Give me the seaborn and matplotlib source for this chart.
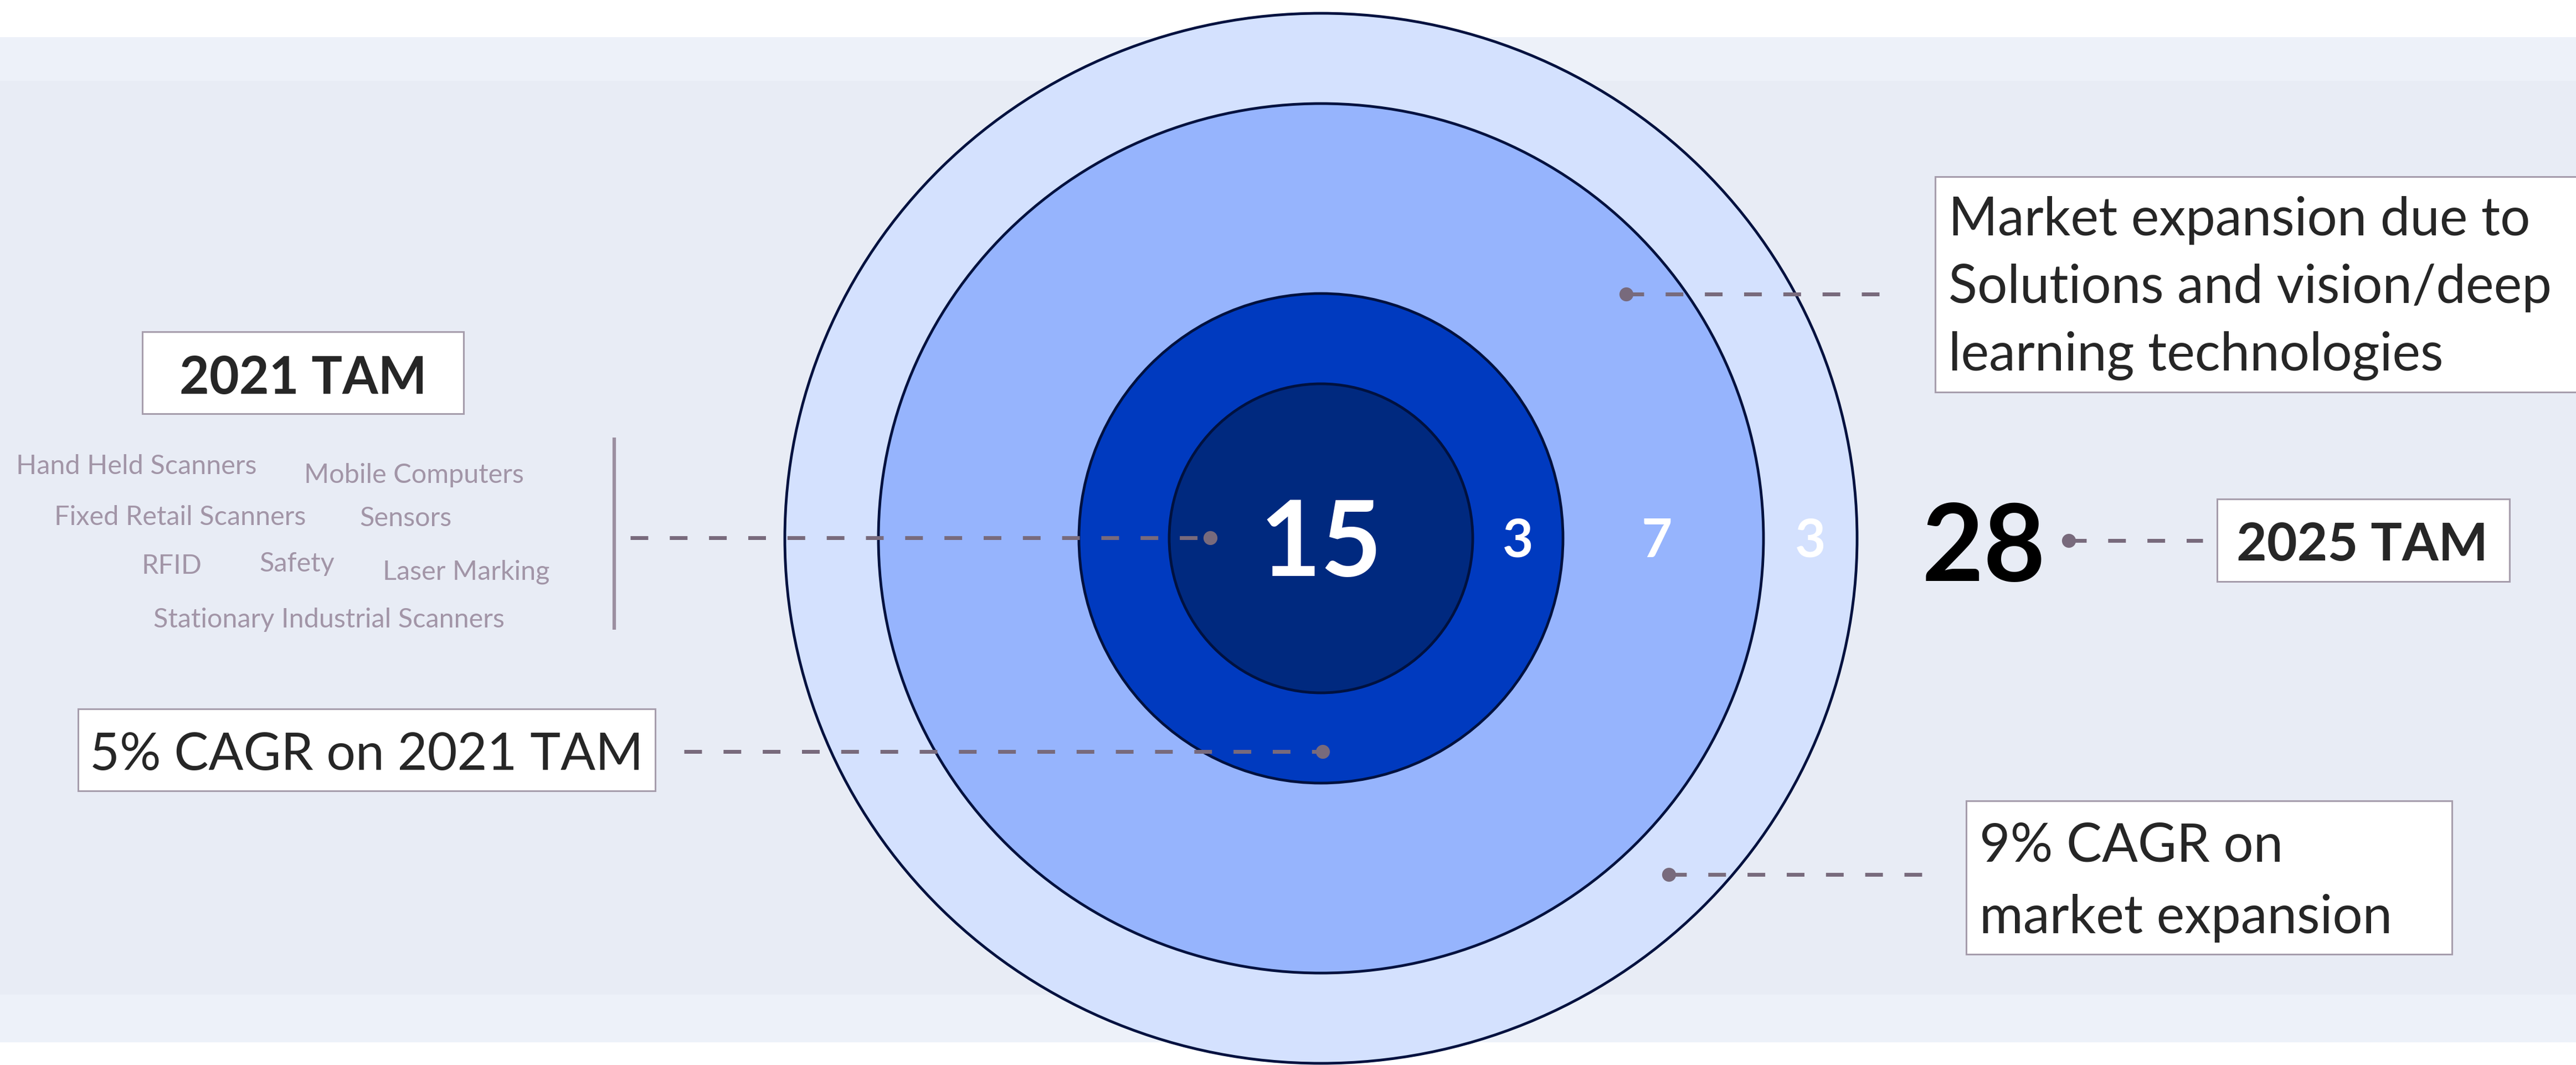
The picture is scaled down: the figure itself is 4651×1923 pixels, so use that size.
import matplotlib
matplotlib.use("Agg")
import matplotlib.pyplot as plt
from matplotlib.patches import Ellipse, Rectangle
import seaborn as sns
import pandas as pd

# ---------------- data ----------------
segment_values = [15, 3, 7, 3]          # 2021 TAM, 5% CAGR growth, expansion, 9% CAGR growth
total_value = 28
tam_2021_label = "2021 TAM"
tam_2025_label = "2025 TAM"
tam_categories = ["Hand Held Scanners", "Mobile Computers", "Fixed Retail Scanners",
                  "Sensors", "RFID", "Safety", "Laser Marking",
                  "Stationary Industrial Scanners"]
note_expansion = ["Market expansion due to", "Solutions and vision/deep",
                  "learning technologies"]
note_cagr_2021 = "5% CAGR on 2021 TAM"
note_cagr_expansion = ["9% CAGR on", "market expansion"]

# ---------------- style / layout ----------------
W, H = 4651, 1924
DPI = 100
FONT = ["Lato", "DejaVu Sans"]
BG_MAIN = "#E8ECF5"
BG_BAND = "#EDF1F9"
RING_COLORS = ["#00297F", "#003ABF", "#96B4FD", "#D4E1FE"]   # inner -> outer
EDGE = "#00113F"
DASH_C = "#786A7C"
GREY_TXT = "#A295A7"
BOX_EDGE = "#A69DAC"

cx, cy = 2385, 973
ring_rx = [274, 437, 799, 968]
ring_ry = [279, 442, 785, 948]

sns.set_theme(style="white")
plt.rcParams["font.family"] = FONT

fig = plt.figure(figsize=(W / DPI, H / DPI), dpi=DPI)
ax = fig.add_axes([0, 0, 1, 1])

# background bands
ax.axhspan(68, 147, color=BG_BAND, zorder=0, lw=0)
ax.axhspan(147, 1797, color=BG_MAIN, zorder=0, lw=0)
ax.axhspan(1797, 1883, color=BG_BAND, zorder=0, lw=0)

# concentric circles (outer first)
for i in range(3, -1, -1):
    ax.add_patch(Ellipse((cx, cy), 2 * ring_rx[i], 2 * ring_ry[i],
                         facecolor=RING_COLORS[i], edgecolor=EDGE, lw=3.5, zorder=2 + (3 - i)))

# ring labels
ax.text(cx, 1040, str(segment_values[0]), color="white", fontsize=137,
        fontweight="bold", ha="center", va="baseline", zorder=10)
label_dx = [0, -12, 0]
for i in range(1, 4):
    xm = cx + (ring_rx[i - 1] + ring_rx[i]) / 2 + label_dx[i - 1]
    ax.text(xm, 1006, str(segment_values[i]), color="white", fontsize=69,
            fontweight="bold", ha="center", va="baseline", zorder=10)

ax.text(3582, 1049, str(total_value), color="black", fontsize=139,
        fontweight="bold", ha="center", va="baseline", zorder=10)

# connectors
connectors = pd.DataFrame({
    "x0": [1138, 1235, 2936, 3013, 3735],
    "x1": [2185, 2388, 3430, 3500, 3977],
    "y":  [972, 1358, 532, 1580, 977],
    "dot": [2185, 2388, 2936, 3013, 3735],
})
for _, r in connectors.iterrows():
    sns.lineplot(x=[r.x0, r.x1], y=[r.y, r.y], ax=ax, color=DASH_C, lw=5,
                 linestyle=(0, (4.6, 5.6)), zorder=11, legend=False)
sns.scatterplot(x=connectors["dot"], y=connectors["y"], ax=ax, color=DASH_C,
                s=330, linewidth=0, zorder=12, legend=False)

# bracket line
ax.plot([1109, 1109], [791, 1138], color="#9B8FA0", lw=4.5, solid_capstyle="butt", zorder=5)

# boxes
def box(x0, y0, x1, y1):
    ax.add_patch(Rectangle((x0, y0), x1 - x0, y1 - y0, facecolor="white",
                           edgecolor=BOX_EDGE, lw=2.2, zorder=8))

box(257, 600, 837, 748)
ax.text(547, 711, tam_2021_label, fontsize=67, fontweight="bold", ha="center",
        va="baseline", zorder=9)
box(4003, 902, 4531, 1051)
ax.text(4265, 1012, tam_2025_label, fontsize=68, fontweight="bold", ha="center",
        va="baseline", zorder=9)
box(141, 1281, 1183, 1429)
ax.text(662, 1390, note_cagr_2021, fontsize=67, ha="center", va="baseline", zorder=9)
box(3494, 320, 4700, 709)
for t, yb in zip(note_expansion, [425, 547, 669]):
    ax.text(3518, yb, t, fontsize=69, ha="left", va="baseline", zorder=9)
box(3550, 1447, 4427, 1724)
for t, yb in zip(note_cagr_expansion, [1556, 1685]):
    ax.text(3574, yb, t, fontsize=69, ha="left", va="baseline", zorder=9)

# category labels
cat_pos = [(29, 856), (549, 872), (98, 948), (649, 950), (255, 1036),
           (468, 1032), (691, 1047), (277, 1133)]
for t, (x, yb) in zip(tam_categories, cat_pos):
    ax.text(x, yb, t, fontsize=35, color=GREY_TXT, ha="left", va="baseline", zorder=9)

ax.set_xlim(0, W)
ax.set_ylim(H, 0)
ax.axis("off")
fig.patch.set_facecolor("white")
fig.savefig("out.png", dpi=DPI, facecolor="white")
